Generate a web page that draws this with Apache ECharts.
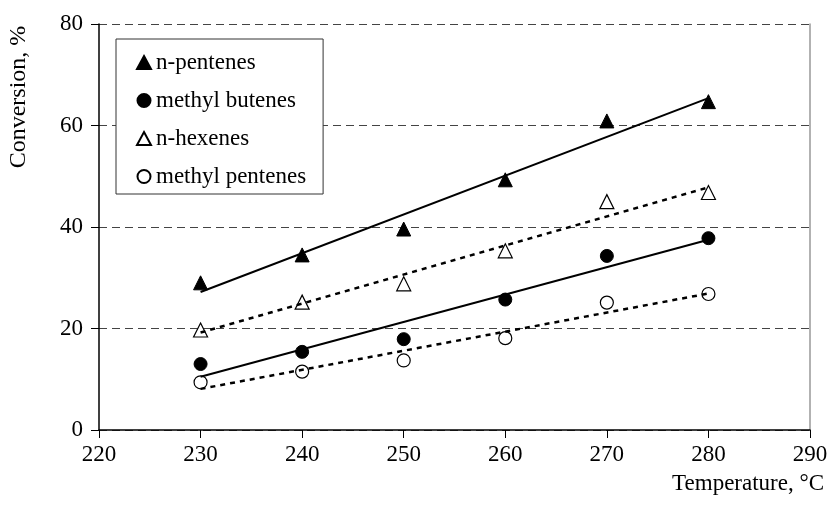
<!DOCTYPE html>
<html>
<head>
<meta charset="utf-8">
<script src="https://cdn.jsdelivr.net/npm/echarts@6/dist/echarts.min.js"></script>
<style>
  html, body { margin: 0; padding: 0; background: #fff; }
  #chart { width: 831px; height: 521px; }
</style>
</head>
<body>
<div id="chart"></div>
<script>
// Measured conversion (%) at each reactor temperature (°C)
const temps = [230, 240, 250, 260, 270, 280];
const nPentenes = [29.0, 34.5, 39.6, 49.3, 60.9, 64.7];
const methylButenes = [13.0, 15.4, 17.9, 25.7, 34.3, 37.8];
const nHexenes = [19.7, 25.2, 28.8, 35.3, 45.0, 46.8];
const methylPentenes = [9.4, 11.5, 13.7, 18.1, 25.1, 26.8];

// Linear trend lines: values at the ends of the temperature range
const trendTemps = [230, 280];
const nPentenesTrend = [27.2, 65.4];
const methylButenesTrend = [10.5, 37.5];
const nHexenesTrend = [19.2, 47.8];
const methylPentenesTrend = [8.1, 26.9];

// Axis ticks
const xTicks = [220, 230, 240, 250, 260, 270, 280, 290];
const yTicks = [0, 20, 40, 60, 80];

const FONT = '"Liberation Serif", "Times New Roman", serif';
const FS = 23;

const pairs = (xs, ys) => xs.map((x, i) => [x, ys[i]]);

function markers(name, values, symbol, filled) {
  return {
    name: name,
    type: 'scatter',
    data: pairs(temps, values),
    symbol: symbol,
    symbolSize: symbol === 'triangle' ? 14 : 13,
    itemStyle: filled
      ? { color: '#000', borderColor: '#000', borderWidth: 1, opacity: 1 }
      : { color: '#fff', borderColor: '#000', borderWidth: 1.2, opacity: 1 },
    z: 3
  };
}

function trend(name, values, dotted) {
  return {
    name: name,
    type: 'line',
    data: pairs(trendTemps, values),
    symbol: 'none',
    silent: true,
    lineStyle: { color: '#000', width: dotted ? 2.5 : 2, type: dotted ? [5, 5] : 'solid' },
    z: 4
  };
}

const chart = echarts.init(document.getElementById('chart'), null, { renderer: 'canvas' });

chart.setOption({
  animation: false,
  backgroundColor: '#fff',
  grid: { left: 99, right: 21, top: 24, bottom: 91, containLabel: false },
  xAxis: {
    type: 'value',
    min: xTicks[0],
    max: xTicks[xTicks.length - 1],
    interval: 10,
    axisLine: { show: true, lineStyle: { color: '#000', width: 1.5 } },
    axisTick: { show: true, length: 8, inside: false, lineStyle: { color: '#000', width: 1 } },
    axisLabel: { color: '#000', fontFamily: FONT, fontSize: FS, margin: 13 },
    splitLine: { show: false }
  },
  yAxis: [
    {
      type: 'value',
      min: yTicks[0],
      max: yTicks[yTicks.length - 1],
      interval: 20,
      axisLine: { show: true, lineStyle: { color: '#000', width: 1.5 } },
      axisTick: { show: true, length: 8, inside: false, lineStyle: { color: '#000', width: 1 } },
      axisLabel: { color: '#000', fontFamily: FONT, fontSize: FS, margin: 16 },
      splitLine: { show: true, lineStyle: { color: '#444', width: 1, type: [8, 5] } }
    },
    {
      type: 'value',
      position: 'right',
      min: yTicks[0],
      max: yTicks[yTicks.length - 1],
      interval: 20,
      axisLine: { show: true, lineStyle: { color: '#999', width: 1.5 } },
      axisTick: { show: false },
      axisLabel: { show: false },
      splitLine: { show: false }
    }
  ],
  legend: {
    data: ['n-pentenes', 'methyl butenes', 'n-hexenes', 'methyl pentenes'],
    orient: 'vertical',
    left: 116,
    top: 39,
    width: 208,
    padding: [12, 17, 6, 20],
    itemGap: 15,
    itemWidth: 14,
    itemHeight: 13,
    borderColor: '#333',
    borderWidth: 1,
    backgroundColor: '#fff',
    selectedMode: false,
    textStyle: { color: '#000', fontFamily: FONT, fontSize: FS, lineHeight: 23 }
  },
  graphic: [
    {
      type: 'text',
      x: 19,
      y: 97,
      rotation: Math.PI / 2,
      style: {
        text: 'Conversion, %',
        font: '24px ' + FONT,
        fill: '#000',
        textAlign: 'center',
        textVerticalAlign: 'middle'
      }
    },
    {
      type: 'text',
      x: 824,
      y: 484,
      style: {
        text: 'Temperature, °C',
        font: FS + 'px ' + FONT,
        fill: '#000',
        textAlign: 'right',
        textVerticalAlign: 'middle'
      }
    }
  ],
  series: [
    markers('n-pentenes', nPentenes, 'triangle', true),
    markers('methyl butenes', methylButenes, 'circle', true),
    markers('n-hexenes', nHexenes, 'triangle', false),
    markers('methyl pentenes', methylPentenes, 'circle', false),
    trend('n-pentenes trend', nPentenesTrend, false),
    trend('methyl butenes trend', methylButenesTrend, false),
    trend('n-hexenes trend', nHexenesTrend, true),
    trend('methyl pentenes trend', methylPentenesTrend, true)
  ]
});
</script>
</body>
</html>
